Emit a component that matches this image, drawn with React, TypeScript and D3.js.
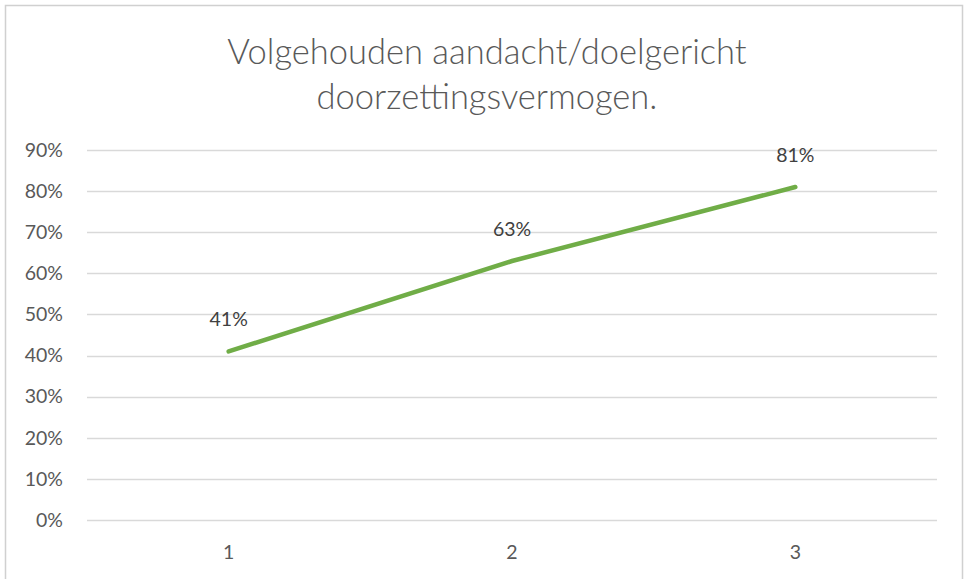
import { useEffect, useRef } from 'react';
import * as d3 from 'd3';

const categories = ['1', '2', '3'];
const values = [0.41, 0.63, 0.81];
const yTicks = [0, 0.1, 0.2, 0.3, 0.4, 0.5, 0.6, 0.7, 0.8, 0.9];
const titleLines = ['Volgehouden aandacht/doelgericht', 'doorzettingsvermogen.'];

export default function App() {
  const svgRef = useRef<SVGSVGElement>(null);

  useEffect(() => {
    if (!svgRef.current) return;
    const svg = d3.select(svgRef.current);
    svg.selectAll('*').remove();

    const W = 969;
    const H = 579;
    const margin = { top: 150, right: 32, bottom: 59, left: 87 };
    const font = 'Lato, "Open Sans", sans-serif';

    const x = d3
      .scaleBand()
      .domain(categories)
      .range([margin.left, W - margin.right]);

    const y = d3
      .scaleLinear()
      .domain([0, 0.9])
      .range([H - margin.bottom, margin.top]);

    // gridlines
    svg
      .append('g')
      .selectAll('line')
      .data(yTicks)
      .enter()
      .append('line')
      .attr('x1', margin.left)
      .attr('x2', W - margin.right)
      .attr('y1', d => Math.round(y(d)) + 0.5)
      .attr('y2', d => Math.round(y(d)) + 0.5)
      .attr('stroke', '#d9d9d9')
      .attr('stroke-width', 1.3);

    // y labels
    svg
      .append('g')
      .selectAll('text')
      .data(yTicks)
      .enter()
      .append('text')
      .attr('x', 63)
      .attr('y', d => y(d))
      .attr('dy', '0.35em')
      .attr('text-anchor', 'end')
      .attr('font-family', font)
      .attr('font-size', 19.5)
      .attr('fill', '#595959')
      .text(d => d3.format('.0%')(d));

    // x labels
    svg
      .append('g')
      .selectAll('text')
      .data(categories)
      .enter()
      .append('text')
      .attr('x', d => (x(d) as number) + x.bandwidth() / 2)
      .attr('y', 552)
      .attr('dy', '0.35em')
      .attr('text-anchor', 'middle')
      .attr('font-family', font)
      .attr('font-size', 19.5)
      .attr('fill', '#595959')
      .text(d => d);

    // line
    const line = d3
      .line<number>()
      .x((_, i) => (x(categories[i]) as number) + x.bandwidth() / 2)
      .y(d => y(d));

    svg
      .append('path')
      .datum(values)
      .attr('d', line)
      .attr('fill', 'none')
      .attr('stroke', '#70ad47')
      .attr('stroke-width', 4.5)
      .attr('stroke-linecap', 'round')
      .attr('stroke-linejoin', 'round');

    // data labels
    svg
      .append('g')
      .selectAll('text')
      .data(values)
      .enter()
      .append('text')
      .attr('x', (_, i) => (x(categories[i]) as number) + x.bandwidth() / 2)
      .attr('y', d => y(d) - 32)
      .attr('dy', '0.35em')
      .attr('text-anchor', 'middle')
      .attr('font-family', font)
      .attr('font-size', 19.5)
      .attr('fill', '#404040')
      .text(d => d3.format('.0%')(d));

    // title
    svg
      .append('g')
      .selectAll('text')
      .data(titleLines)
      .enter()
      .append('text')
      .attr('x', 487)
      .attr('y', (_, i) => 52 + i * 45)
      .attr('dy', '0.35em')
      .attr('text-anchor', 'middle')
      .attr('font-family', font)
      .attr('font-size', 34.5)
      .attr('font-weight', 300)
      .attr('fill', '#595959')
      .text(d => d);

    // chart border (open at the bottom, as in the crop)
    svg
      .append('path')
      .attr('d', `M5.5,${H} V5.5 H962.5 V${H}`)
      .attr('fill', 'none')
      .attr('stroke', '#d0d0d0')
      .attr('stroke-width', 1.5);
  }, []);

  return (
    <svg
      ref={svgRef}
      width={969}
      height={579}
      style={{ display: 'block', position: 'absolute', left: 0, top: 0, background: '#fff' }}
    ></svg>
  );
}
